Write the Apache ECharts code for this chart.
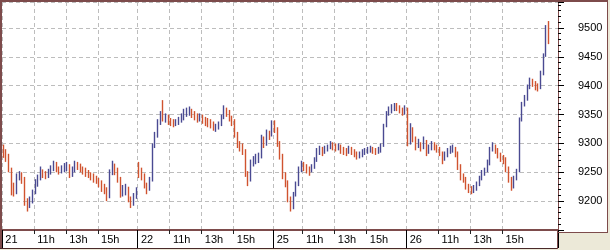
<!DOCTYPE html>
<html><head><meta charset="utf-8">
<script src="https://cdn.jsdelivr.net/npm/echarts@6/dist/echarts.min.js"></script>
<style>html,body{margin:0;padding:0;background:#ece9d8;}#c{width:610px;height:250px;}</style>
</head><body><div id="c"></div>
<script>
// sessions (10-minute slots)
const dayLabels = ['21', '22', '25', '26'];
const dayStart = ['09:00', '09:00', '09:10', '09:00'];
const daySlots = [51, 51, 50, 57];
const hourTicks = ['11:00', '13:00', '15:00'];

// day 21
const d21Open = 9292;
const d21Close = [9288,9280,9255,9225,9215,9240,9245,9240,9200,9190,9202,9215,9231,9240,9250,9248,9245,9250,9258,9266,9258,9254,9256,9260,9262,9245,9255,9265,9262,9257,9254,9250,9248,9244,9240,9238,9232,9225,9220,9207,9250,9262,9255,9240,9212,9220,9222,9205,9195,9208,9218];
const d21Low = [9275,9268,9250,9210,9208,9212,9236,9230,9192,9182,9188,9196,9212,9225,9236,9240,9238,9240,9246,9252,9250,9246,9248,9250,9252,9240,9242,9250,9254,9250,9246,9242,9240,9236,9232,9230,9224,9216,9212,9200,9205,9245,9245,9232,9206,9208,9210,9198,9188,9192,9204];
const d21High = [9298,9290,9282,9258,9232,9248,9252,9250,9242,9205,9208,9220,9238,9246,9260,9255,9252,9256,9262,9270,9268,9260,9262,9266,9268,9264,9260,9270,9268,9265,9260,9258,9254,9250,9248,9244,9240,9236,9230,9224,9255,9270,9265,9258,9242,9228,9230,9225,9208,9214,9224];

// day 22
const d22Open = 9262;
const d22Close = [9255,9245,9228,9222,9236,9297,9314,9338,9350,9345,9346,9340,9338,9335,9336,9340,9345,9353,9356,9358,9352,9349,9344,9346,9342,9340,9338,9336,9327,9328,9332,9345,9360,9355,9345,9340,9318,9300,9297,9288,9250,9236,9268,9271,9275,9278,9310,9300,9318,9315,9330];
const d22Low = [9240,9236,9222,9212,9218,9234,9292,9310,9332,9338,9336,9332,9330,9328,9330,9332,9336,9340,9346,9348,9344,9340,9336,9338,9334,9330,9328,9326,9322,9320,9324,9330,9342,9346,9338,9330,9310,9292,9286,9280,9242,9226,9234,9260,9264,9266,9274,9292,9296,9306,9312];
const d22High = [9268,9258,9248,9232,9242,9300,9320,9342,9356,9375,9352,9350,9344,9342,9342,9346,9352,9360,9362,9364,9360,9356,9352,9352,9350,9346,9344,9342,9338,9334,9338,9350,9366,9362,9358,9348,9342,9320,9304,9300,9290,9252,9272,9278,9282,9284,9315,9312,9324,9322,9340];

// day 25
const d25Open = 9334;
const d25Close = [9325,9300,9280,9245,9232,9205,9188,9212,9228,9255,9264,9260,9256,9252,9259,9271,9286,9290,9286,9290,9293,9299,9296,9294,9295,9290,9288,9285,9290,9288,9282,9279,9280,9284,9287,9290,9290,9288,9287,9288,9296,9330,9352,9358,9362,9365,9364,9360,9354,9360];
const d25Low = [9318,9294,9272,9238,9224,9198,9182,9186,9208,9226,9250,9252,9248,9244,9250,9256,9268,9280,9278,9282,9286,9290,9288,9286,9288,9282,9280,9278,9282,9280,9276,9272,9274,9276,9280,9282,9284,9282,9280,9282,9284,9294,9328,9348,9352,9356,9356,9352,9348,9350];
const d25High = [9340,9328,9304,9282,9250,9236,9208,9216,9234,9260,9270,9268,9264,9260,9264,9276,9292,9296,9294,9296,9298,9304,9302,9300,9300,9298,9294,9292,9296,9294,9290,9286,9286,9290,9292,9294,9296,9294,9292,9294,9300,9334,9356,9364,9368,9370,9370,9366,9362,9366];

// day 26
const d26Open = 9360;
const d26Close = [9300,9325,9310,9295,9300,9294,9306,9285,9292,9298,9296,9292,9285,9272,9280,9286,9290,9292,9285,9262,9242,9240,9228,9222,9218,9222,9228,9238,9248,9252,9265,9290,9298,9290,9282,9275,9274,9258,9240,9225,9238,9250,9340,9368,9378,9398,9408,9405,9400,9396,9420,9452,9500,9478];
const d26Low = [9295,9298,9302,9288,9292,9286,9290,9278,9282,9288,9288,9284,9278,9264,9270,9276,9282,9284,9276,9254,9236,9232,9220,9214,9212,9214,9218,9226,9236,9244,9250,9262,9286,9282,9274,9268,9264,9250,9232,9218,9222,9236,9250,9338,9364,9374,9394,9398,9392,9390,9394,9418,9450,9472];
const d26High = [9362,9335,9328,9312,9308,9302,9312,9306,9298,9304,9302,9298,9294,9286,9286,9292,9296,9298,9294,9286,9264,9248,9242,9230,9226,9228,9234,9244,9254,9258,9272,9294,9302,9298,9292,9284,9280,9276,9260,9242,9244,9256,9345,9372,9384,9402,9414,9412,9408,9404,9426,9456,9505,9512];

const opens = [d21Open, d22Open, d25Open, d26Open];
const closes = [d21Close, d22Close, d25Close, d26Close];
const lows = [d21Low, d22Low, d25Low, d26Low];
const highs = [d21High, d22High, d25High, d26High];

const cats = [], ohlc = [], dayIdx = new Set(), hourIdx = new Set();
for (let d = 0; d < dayLabels.length; d++) {
  const [h0, m0] = dayStart[d].split(':').map(Number);
  for (let k = 0; k < daySlots[d]; k++) {
    const t = h0 * 60 + m0 + 10 * k;
    const hh = String(Math.floor(t / 60)).padStart(2, '0');
    const mm = String(t % 60).padStart(2, '0');
    const idx = cats.length;
    cats.push(dayLabels[d] + ' ' + hh + ':' + mm);
    if (k === 0) dayIdx.add(idx);
    else if (hourTicks.includes(hh + ':' + mm)) hourIdx.add(idx);
    const c = closes[d];
    if (k < c.length) {
      const o = k === 0 ? opens[d] : c[k - 1];
      ohlc.push([o, c[k], lows[d][k], highs[d][k]]);
    } else {
      ohlc.push('-');
    }
  }
}

const brown = '#7d4b4b';
const gridCol = '#bdbdbd';
const font = 'Liberation Sans, Arial, sans-serif';
const upCol = '#4a4a92', downCol = '#d0532f';
const chart = echarts.init(document.getElementById('c'));
chart.setOption({
  animation: false,
  backgroundColor: 'transparent',
  grid: { left: 2, right: 52, top: 2, bottom: 20, containLabel: false },
  xAxis: [{
    type: 'category', data: cats, boundaryGap: true, position: 'bottom',
    axisLine: { show: true, lineStyle: { color: brown, width: 2 } },
    axisTick: { show: true, interval: (i) => hourIdx.has(i), length: 4, lineStyle: { color: '#222' } },
    axisLabel: {
      interval: (i) => hourIdx.has(i) || dayIdx.has(i),
      formatter: (v) => {
        const [day, tm] = v.split(' ');
        const i = cats.indexOf(v);
        return dayIdx.has(i) ? day : String(parseInt(tm, 10)) + 'h';
      },
      align: 'left', padding: [0, 0, 0, 2], margin: 4,
      color: '#000', fontSize: 11, fontFamily: font
    },
    splitLine: { show: true, interval: (i) => hourIdx.has(i) || dayIdx.has(i), lineStyle: { color: gridCol, type: [4, 3] } }
  }, {
    type: 'category', data: cats, boundaryGap: true, position: 'bottom',
    axisLine: { show: false },
    axisTick: { show: true, interval: (i) => dayIdx.has(i), length: 18, lineStyle: { color: '#000', width: 1 } },
    axisLabel: { show: false },
    splitLine: { show: false }
  }],
  yAxis: {
    type: 'value', position: 'right', min: 9150, max: 9545, interval: 50, scale: true,
    axisLine: { show: true, lineStyle: { color: brown, width: 1 } },
    axisTick: { show: true, length: 6, lineStyle: { color: '#000' } },
    minorTick: { show: true, splitNumber: 5, length: 3, lineStyle: { color: '#000' } },
    axisLabel: { margin: 20, color: '#000', fontSize: 11, fontFamily: font, showMinLabel: false, showMaxLabel: false,
      formatter: (v) => String(v) },
    splitLine: { show: true, lineStyle: { color: gridCol, type: [4, 3] } }
  },
  series: [{
    type: 'candlestick', xAxisIndex: 0, data: ohlc, barWidth: 1,
    itemStyle: { color: upCol, color0: downCol, borderColor: upCol, borderColor0: downCol, borderWidth: 1.4 }
  }],
  graphic: [
    { type: 'rect', z: -10, shape: { x: 0, y: 0, width: 558, height: 249 }, style: { fill: '#fff' } },
    { type: 'rect', z: -10, shape: { x: 558, y: 0, width: 50, height: 232 }, style: { fill: '#fff' } },
    { type: 'line', z: 100, shape: { x1: 1, y1: 0, x2: 1, y2: 249 }, style: { stroke: brown, lineWidth: 2 } },
    { type: 'line', z: 100, shape: { x1: 0, y1: 1, x2: 608, y2: 1 }, style: { stroke: brown, lineWidth: 2 } },
    { type: 'line', z: 100, shape: { x1: 0, y1: 248.5, x2: 558, y2: 248.5 }, style: { stroke: '#4a2a2a', lineWidth: 1 } },
    { type: 'line', z: 100, shape: { x1: 557.5, y1: 230, x2: 557.5, y2: 249 }, style: { stroke: brown, lineWidth: 1 } },
    { type: 'line', z: 100, shape: { x1: 607.5, y1: 0, x2: 607.5, y2: 233 }, style: { stroke: brown, lineWidth: 1 } },
    { type: 'line', z: 100, shape: { x1: 557, y1: 232.5, x2: 608, y2: 232.5 }, style: { stroke: brown, lineWidth: 1 } }
  ]
});
</script></body></html>
